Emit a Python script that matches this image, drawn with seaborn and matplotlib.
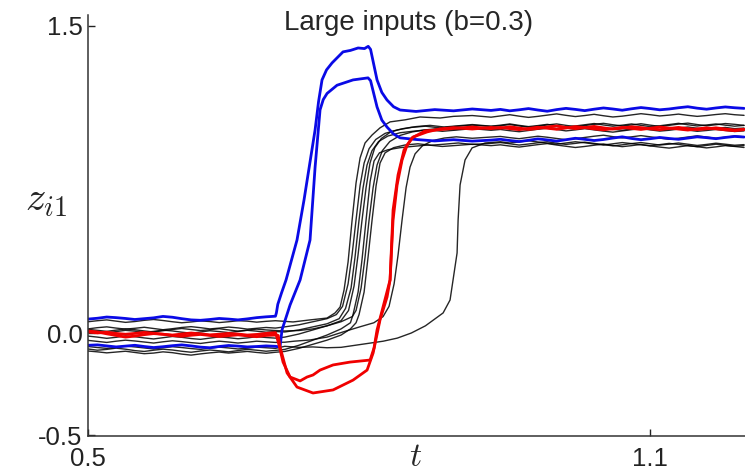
import matplotlib
matplotlib.use('Agg')
import matplotlib.pyplot as plt
import seaborn as sns
import numpy as np
import pandas as pd

# shared time grids: before the input (0.50..0.70) and after settling (0.94..1.20)
t_base = [0.50, 0.51, 0.52, 0.53, 0.54, 0.55, 0.56, 0.57, 0.58, 0.59, 0.60,
          0.61, 0.62, 0.63, 0.64, 0.65, 0.66, 0.67, 0.68, 0.69, 0.70]
t_tail = [0.94, 0.95, 0.96, 0.97, 0.98, 0.99, 1.00, 1.01, 1.02, 1.03, 1.04, 1.05, 1.06, 1.07,
          1.08, 1.09, 1.10, 1.11, 1.12, 1.13, 1.14, 1.15, 1.16, 1.17, 1.18, 1.19, 1.20]

# blue trajectories (overshoot)
blue1_base = [0.068, 0.072, 0.078, 0.075, 0.071, 0.066, 0.070, 0.074, 0.081, 0.077, 0.070,
              0.064, 0.062, 0.066, 0.071, 0.068, 0.064, 0.069, 0.075, 0.079, 0.082]
blue1_mid_t = [0.701, 0.7025, 0.7065, 0.7113, 0.723, 0.7305, 0.7423, 0.746, 0.7497, 0.7545, 0.7604,
               0.7721, 0.780, 0.7882, 0.795, 0.799, 0.8015, 0.8084, 0.8135, 0.819, 0.826, 0.833,
               0.85, 0.87, 0.89, 0.91, 0.93]
blue1_mid_z = [0.098, 0.140, 0.196, 0.259, 0.454, 0.650, 0.992, 1.130, 1.236, 1.285, 1.319,
               1.373, 1.380, 1.392, 1.389, 1.400, 1.385, 1.236, 1.175, 1.138, 1.105, 1.089,
               1.082, 1.091, 1.085, 1.094, 1.087]
blue1_tail = [1.092, 1.085, 1.090, 1.096, 1.089, 1.083, 1.091, 1.097, 1.092, 1.086, 1.093, 1.099, 1.094, 1.088,
              1.095, 1.101, 1.096, 1.090, 1.094, 1.100, 1.105, 1.098, 1.093, 1.099, 1.104, 1.100, 1.097]

blue2_base = [-0.060, -0.058, -0.063, -0.068, -0.064, -0.060, -0.066, -0.071, -0.067, -0.062, -0.058,
              -0.063, -0.069, -0.072, -0.066, -0.061, -0.064, -0.068, -0.066, -0.063, -0.065]
blue2_mid_t = [0.7049, 0.707, 0.7156, 0.7263, 0.7369, 0.7423, 0.7476, 0.751, 0.7551, 0.7657, 0.7828,
               0.7988, 0.8015, 0.8084, 0.8135, 0.819, 0.826, 0.833, 0.85, 0.87, 0.89, 0.91, 0.93]
blue2_mid_z = [-0.068, 0.015, 0.137, 0.259, 0.454, 0.810, 1.090, 1.140, 1.170, 1.210, 1.236,
               1.246, 1.232, 1.104, 1.040, 1.006, 0.972, 0.953, 0.945, 0.938, 0.944, 0.937, 0.942]
blue2_tail = [0.946, 0.940, 0.935, 0.941, 0.948, 0.943, 0.937, 0.944, 0.951, 0.946, 0.940, 0.945, 0.952, 0.958,
              0.950, 0.944, 0.949, 0.955, 0.950, 0.946, 0.952, 0.958, 0.954, 0.949, 0.955, 0.960, 0.957]

# red trajectories (undershoot)
red1_base = [0.010, 0.005, -0.004, -0.012, -0.020, -0.015, -0.008, -0.003, -0.006, -0.010, -0.005,
             0.000, -0.004, -0.009, -0.006, -0.002, -0.005, -0.010, -0.007, -0.002, 0.002]
red1_mid_t = [0.7006, 0.7038, 0.7081, 0.7156, 0.7263, 0.7337, 0.7401, 0.7476, 0.7615, 0.7796, 0.801,
              0.8052, 0.8084, 0.8148, 0.8223, 0.8255, 0.8298, 0.8351, 0.8405, 0.8468, 0.8618, 0.8757,
              0.89, 0.91, 0.93]
red1_mid_z = [-0.005, -0.059, -0.142, -0.215, -0.234, -0.215, -0.205, -0.181, -0.156, -0.142, -0.132,
              -0.073, 0.015, 0.127, 0.259, 0.552, 0.723, 0.845, 0.918, 0.957, 0.982, 0.997,
              1.003, 0.996, 1.004]
red1_tail = [1.000, 1.007, 1.001, 0.994, 0.999, 1.006, 1.011, 1.004, 0.998, 1.003, 1.009, 1.002, 0.996, 1.001,
             1.007, 1.003, 0.997, 0.993, 0.999, 1.004, 0.998, 0.993, 0.997, 1.002, 0.996, 0.991, 0.995]

red2_base = [0.005, 0.000, 0.004, -0.002, -0.006, -0.002, 0.003, -0.001, -0.006, -0.012, -0.016,
             -0.011, -0.007, -0.012, -0.017, -0.013, -0.009, -0.014, -0.018, -0.012, -0.010]
red2_mid_t = [0.703, 0.7049, 0.7124, 0.723, 0.7401, 0.7615, 0.7828, 0.7978, 0.8042, 0.8116, 0.8191,
              0.8223, 0.8255, 0.8308, 0.8372, 0.8458, 0.8597, 0.875, 0.89, 0.91, 0.93]
red2_mid_z = [-0.012, -0.068, -0.195, -0.264, -0.293, -0.278, -0.230, -0.181, -0.098, 0.064, 0.176,
              0.259, 0.601, 0.772, 0.894, 0.953, 0.987, 0.993, 0.999, 1.006, 0.998]
red2_tail = [1.004, 0.998, 0.993, 0.999, 1.005, 1.000, 0.995, 1.001, 1.008, 1.003, 0.997, 0.992, 0.998, 1.004,
             0.999, 0.994, 1.000, 1.006, 1.001, 0.996, 0.991, 0.997, 1.002, 0.997, 0.992, 0.988, 0.993]

# black trajectories
k1_base = [0.055, 0.060, 0.064, 0.058, 0.052, 0.056, 0.062, 0.066, 0.061, 0.055, 0.050,
           0.054, 0.059, 0.056, 0.051, 0.055, 0.060, 0.058, 0.053, 0.057, 0.060]
k1_mid_t = [0.7188, 0.737, 0.755, 0.7636, 0.769, 0.7732, 0.7775, 0.7818, 0.786, 0.7903, 0.7956,
            0.8031, 0.8116, 0.8223, 0.8383, 0.8543, 0.8757, 0.89, 0.91, 0.93]
k1_mid_z = [0.054, 0.064, 0.073, 0.098, 0.127, 0.210, 0.347, 0.552, 0.733, 0.855, 0.928,
            0.967, 1.002, 1.031, 1.041, 1.055, 1.050, 1.058, 1.062, 1.054]
k1_tail = [1.060, 1.066, 1.059, 1.053, 1.058, 1.064, 1.070, 1.063, 1.057, 1.062, 1.068, 1.061, 1.055, 1.059,
           1.065, 1.071, 1.066, 1.060, 1.064, 1.069, 1.063, 1.058, 1.062, 1.067, 1.071, 1.066, 1.063]

k2_base = [0.020, 0.026, 0.030, 0.024, 0.019, 0.023, 0.028, 0.022, 0.016, 0.021, 0.027,
           0.031, 0.026, 0.020, 0.024, 0.029, 0.025, 0.019, 0.023, 0.027, 0.024]
k2_mid_t = [0.71, 0.725, 0.74, 0.755, 0.765, 0.7716, 0.7775, 0.7817, 0.786, 0.7903, 0.7946,
            0.7999, 0.807, 0.817, 0.83, 0.845, 0.86, 0.875, 0.89, 0.91, 0.93]
k2_mid_z = [0.030, 0.040, 0.055, 0.070, 0.090, 0.130, 0.240, 0.380, 0.552, 0.720, 0.830,
            0.900, 0.945, 0.975, 0.992, 1.004, 1.010, 1.002, 1.008, 1.015, 1.009]
k2_tail = [1.012, 1.018, 1.011, 1.005, 1.010, 1.016, 1.021, 1.014, 1.008, 1.013, 1.019, 1.024, 1.017, 1.011,
           1.016, 1.022, 1.015, 1.009, 1.014, 1.020, 1.025, 1.018, 1.012, 1.017, 1.023, 1.019, 1.014]

k3_base = [0.012, 0.006, 0.001, 0.007, 0.013, 0.009, 0.003, 0.008, 0.014, 0.010, 0.004,
           -0.001, 0.005, 0.011, 0.007, 0.002, 0.008, 0.013, 0.009, 0.004, 0.007]
k3_mid_t = [0.71, 0.725, 0.74, 0.755, 0.768, 0.7748, 0.7807, 0.7849, 0.7892, 0.7935, 0.7977,
            0.803, 0.81, 0.82, 0.833, 0.848, 0.863, 0.878, 0.893, 0.91, 0.93]
k3_mid_z = [0.005, 0.015, 0.030, 0.045, 0.070, 0.120, 0.220, 0.370, 0.552, 0.710, 0.820,
            0.890, 0.935, 0.962, 0.978, 0.986, 0.993, 0.985, 0.991, 0.998, 0.990]
k3_tail = [0.994, 0.988, 0.983, 0.989, 0.995, 1.000, 0.994, 0.987, 0.992, 0.998, 0.992, 0.986, 0.981, 0.987,
           0.993, 0.998, 0.992, 0.986, 0.990, 0.996, 0.991, 0.985, 0.989, 0.994, 0.989, 0.984, 0.987]

k4_base = [-0.015, -0.020, -0.026, -0.021, -0.014, -0.018, -0.024, -0.029, -0.023, -0.017, -0.021,
           -0.027, -0.031, -0.025, -0.019, -0.023, -0.028, -0.024, -0.018, -0.022, -0.025]
k4_mid_t = [0.71, 0.725, 0.74, 0.755, 0.77, 0.778, 0.7839, 0.7881, 0.7924, 0.7967, 0.8009,
            0.806, 0.813, 0.823, 0.836, 0.85, 0.865, 0.88, 0.895, 0.91, 0.93]
k4_mid_z = [-0.020, -0.005, 0.015, 0.035, 0.060, 0.110, 0.230, 0.380, 0.552, 0.710, 0.830,
            0.905, 0.950, 0.982, 0.998, 1.008, 1.014, 1.006, 1.012, 1.018, 1.010]
k4_tail = [1.015, 1.021, 1.014, 1.008, 1.013, 1.019, 1.012, 1.006, 1.011, 1.017, 1.023, 1.016, 1.010, 1.015,
           1.021, 1.014, 1.008, 1.012, 1.018, 1.024, 1.017, 1.011, 1.016, 1.021, 1.015, 1.010, 1.014]

k5_base = [-0.078, -0.084, -0.080, -0.074, -0.079, -0.086, -0.090, -0.084, -0.079, -0.083, -0.089,
           -0.094, -0.088, -0.083, -0.087, -0.092, -0.086, -0.080, -0.084, -0.089, -0.085]
k5_mid_t = [0.71, 0.725, 0.74, 0.755, 0.77, 0.78, 0.7828, 0.7882, 0.7924, 0.7967, 0.801,
            0.8052, 0.811, 0.82, 0.833, 0.848, 0.863, 0.878, 0.893, 0.91, 0.93]
k5_mid_z = [-0.080, -0.060, -0.035, -0.010, 0.020, 0.050, 0.090, 0.200, 0.360, 0.552, 0.740,
            0.840, 0.880, 0.895, 0.905, 0.912, 0.918, 0.911, 0.916, 0.922, 0.915]
k5_tail = [0.919, 0.913, 0.908, 0.914, 0.920, 0.925, 0.918, 0.912, 0.906, 0.911, 0.917, 0.923, 0.916, 0.910,
           0.915, 0.921, 0.914, 0.908, 0.903, 0.909, 0.915, 0.910, 0.904, 0.909, 0.915, 0.911, 0.906]

k6_base = [0.018, 0.013, 0.008, 0.014, 0.020, 0.016, 0.010, 0.005, 0.011, 0.017, 0.022,
           0.017, 0.012, 0.016, 0.021, 0.015, 0.009, 0.014, 0.019, 0.015, 0.012]
k6_mid_t = [0.71, 0.725, 0.74, 0.755, 0.77, 0.782, 0.786, 0.7914, 0.7956, 0.7999, 0.8042,
            0.8084, 0.814, 0.822, 0.833, 0.846, 0.86, 0.875, 0.89, 0.91, 0.93]
k6_mid_z = [0.010, 0.012, 0.020, 0.035, 0.055, 0.080, 0.110, 0.220, 0.370, 0.552, 0.710,
            0.820, 0.890, 0.935, 0.965, 0.982, 0.992, 0.999, 0.993, 1.000, 0.995]
k6_tail = [0.999, 1.005, 0.999, 0.993, 0.998, 1.004, 1.009, 1.002, 0.996, 1.001, 1.007, 1.001, 0.995, 0.990,
           0.996, 1.002, 0.997, 0.991, 0.995, 1.001, 1.006, 1.000, 0.994, 0.999, 1.004, 0.998, 1.001]

k7_base = [-0.088, -0.092, -0.097, -0.093, -0.089, -0.095, -0.101, -0.098, -0.092, -0.096, -0.103,
           -0.108, -0.102, -0.097, -0.093, -0.098, -0.094, -0.090, -0.095, -0.099, -0.094]
k7_mid_t = [0.71, 0.725, 0.74, 0.755, 0.77, 0.78, 0.786, 0.7892, 0.7946, 0.7988, 0.8031,
            0.8074, 0.8116, 0.817, 0.826, 0.838, 0.852, 0.866, 0.88, 0.895, 0.91, 0.93]
k7_mid_z = [-0.090, -0.075, -0.055, -0.035, -0.010, 0.020, 0.050, 0.090, 0.200, 0.370, 0.552,
            0.720, 0.830, 0.880, 0.905, 0.918, 0.924, 0.917, 0.922, 0.928, 0.921, 0.926]
k7_tail = [0.930, 0.924, 0.918, 0.923, 0.929, 0.934, 0.927, 0.921, 0.926, 0.932, 0.926, 0.920, 0.914, 0.919,
           0.925, 0.930, 0.924, 0.918, 0.922, 0.928, 0.922, 0.916, 0.921, 0.927, 0.922, 0.917, 0.920]

k8_base = [-0.036, -0.041, -0.046, -0.040, -0.035, -0.039, -0.044, -0.049, -0.043, -0.038, -0.042,
           -0.047, -0.051, -0.045, -0.040, -0.044, -0.049, -0.045, -0.040, -0.043, -0.046]
k8_mid_t = [0.71, 0.72, 0.737, 0.755, 0.772, 0.79, 0.805, 0.8148, 0.8212, 0.8266, 0.8308,
            0.8351, 0.8394, 0.8436, 0.849, 0.857, 0.868, 0.88, 0.893, 0.91, 0.93]
k8_mid_z = [-0.045, -0.040, -0.034, -0.020, 0.005, 0.030, 0.050, 0.080, 0.130, 0.240, 0.380,
            0.552, 0.710, 0.810, 0.875, 0.915, 0.940, 0.952, 0.958, 0.951, 0.957]
k8_tail = [0.960, 0.954, 0.949, 0.955, 0.961, 0.956, 0.950, 0.944, 0.949, 0.955, 0.961, 0.966, 0.959, 0.953,
           0.958, 0.964, 0.958, 0.952, 0.946, 0.951, 0.957, 0.963, 0.957, 0.951, 0.956, 0.962, 0.958]

k9_base = [-0.066, -0.071, -0.075, -0.070, -0.064, -0.068, -0.073, -0.078, -0.072, -0.067, -0.071,
           -0.076, -0.080, -0.074, -0.069, -0.073, -0.078, -0.074, -0.069, -0.072, -0.075]
k9_mid_t = [0.71, 0.725, 0.74, 0.755, 0.77, 0.785, 0.80, 0.815, 0.83, 0.845, 0.86,
            0.8789, 0.8863, 0.8895, 0.8938, 0.8949, 0.897, 0.9023, 0.9098, 0.9237]
k9_mid_z = [-0.065, -0.070, -0.068, -0.072, -0.070, -0.060, -0.050, -0.040, -0.025, 0.000, 0.035,
            0.098, 0.161, 0.259, 0.391, 0.552, 0.723, 0.845, 0.904, 0.928]
k9_tail = [0.934, 0.928, 0.933, 0.939, 0.933, 0.927, 0.922, 0.928, 0.934, 0.929, 0.923, 0.918, 0.924, 0.930,
           0.925, 0.919, 0.914, 0.920, 0.926, 0.921, 0.915, 0.910, 0.916, 0.922, 0.917, 0.912, 0.915]


def build_frame(parts):
    rows = []
    for name, base, mid_t, mid_z, tail in parts:
        t = t_base + mid_t + t_tail
        z = base + mid_z + tail
        rows.append(pd.DataFrame({'t': t, 'z': z, 'name': name}))
    return pd.concat(rows, ignore_index=True)


black_df = build_frame([
    ('k1', k1_base, k1_mid_t, k1_mid_z, k1_tail),
    ('k2', k2_base, k2_mid_t, k2_mid_z, k2_tail),
    ('k3', k3_base, k3_mid_t, k3_mid_z, k3_tail),
    ('k4', k4_base, k4_mid_t, k4_mid_z, k4_tail),
    ('k5', k5_base, k5_mid_t, k5_mid_z, k5_tail),
    ('k6', k6_base, k6_mid_t, k6_mid_z, k6_tail),
    ('k7', k7_base, k7_mid_t, k7_mid_z, k7_tail),
    ('k8', k8_base, k8_mid_t, k8_mid_z, k8_tail),
    ('k9', k9_base, k9_mid_t, k9_mid_z, k9_tail),
])
color_df = build_frame([
    ('blue1', blue1_base, blue1_mid_t, blue1_mid_z, blue1_tail),
    ('blue2', blue2_base, blue2_mid_t, blue2_mid_z, blue2_tail),
    ('red1', red1_base, red1_mid_t, red1_mid_z, red1_tail),
    ('red2', red2_base, red2_mid_t, red2_mid_z, red2_tail),
])
palette = {'blue1': '#0a0ae6', 'blue2': '#0a0ae6', 'red1': '#f00000', 'red2': '#f00000'}

sns.set_style('ticks')
plt.rcParams['font.family'] = ['Liberation Sans', 'DejaVu Sans']
plt.rcParams['mathtext.fontset'] = 'cm'

fig = plt.figure(figsize=(7.45, 4.73), dpi=100)
ax = fig.add_axes([88 / 745, 37 / 473, 657 / 745, 421 / 473])

sns.lineplot(data=black_df, x='t', y='z', units='name', estimator=None, sort=False,
             color='black', linewidth=1.0, alpha=0.85, ax=ax, legend=False)
sns.lineplot(data=color_df, x='t', y='z', units='name', estimator=None, sort=False,
             hue='name', palette=palette, linewidth=2.0, ax=ax, legend=False)

ax.set_xlim(0.5, 1.201)
ax.set_ylim(-0.503, 1.553)
ax.set_xticks([0.5, 1.1])
ax.set_xticklabels(['0.5', '1.1'])
ax.set_yticks([-0.5, 0.0, 1.5])
ax.set_yticklabels(['-0.5', '0.0', '1.5'])
ax.tick_params(direction='in', length=5, width=1, labelsize=18.5, colors='#222222')
ax.tick_params(axis='x', pad=8)
ax.tick_params(axis='y', pad=4)
sns.despine(ax=ax)
for side in ['left', 'bottom']:
    ax.spines[side].set_linewidth(1.1)
    ax.spines[side].set_color('#333333')

ax.set_xlabel(r'$t$', fontsize=24, va='center')
ax.set_ylabel(r'$z_{i1}$', fontsize=29, rotation=0, ha='center', va='center')
ax.xaxis.set_label_coords(0.498, -0.05)
ax.yaxis.set_label_coords(-0.064, 0.56)

fig.text(409 / 745, 1 - 23 / 473, 'Large inputs (b=0.3)', ha='center', va='center', fontsize=20)

fig.savefig('out.png', dpi=100)
